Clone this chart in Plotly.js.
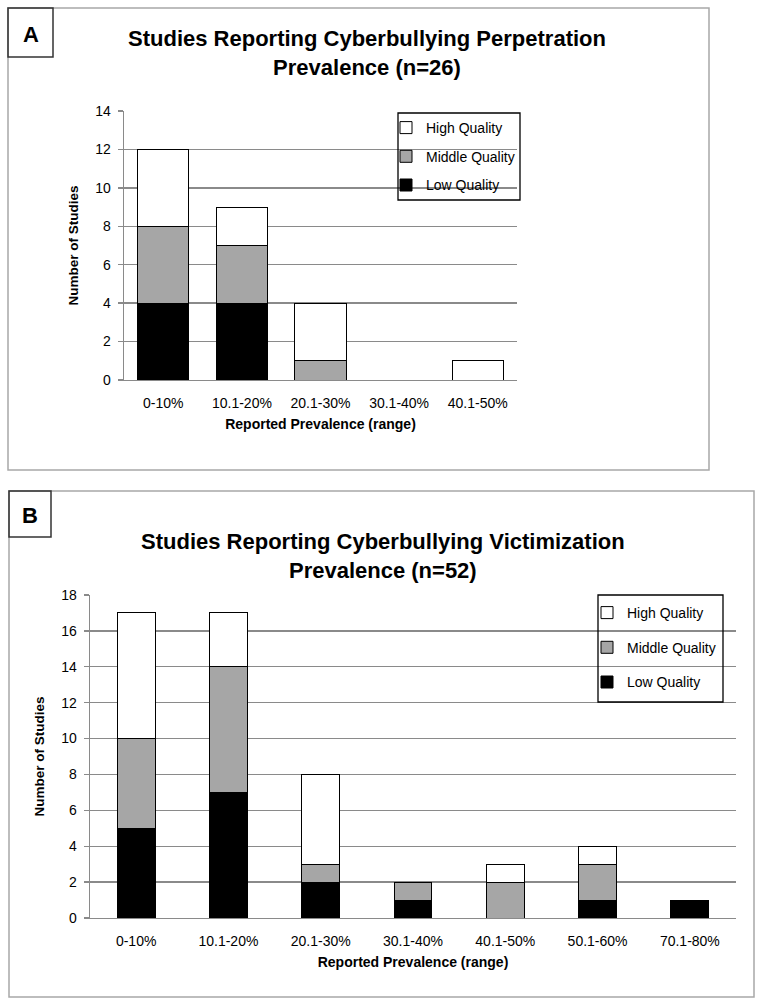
<!DOCTYPE html>
<html><head><meta charset="utf-8">
<script src="https://cdn.plot.ly/plotly-3.0.1.min.js"></script>
<style>html,body{margin:0;padding:0;background:#fff}#chart{width:764px;height:1003px}</style>
</head><body><div id="chart"></div>
<script>
// ---- data ----
const categoriesA = ['0-10%', '10.1-20%', '20.1-30%', '30.1-40%', '40.1-50%'];
const lowA = [4, 4, 0, 0, 0];
const middleA = [4, 3, 1, 0, 0];
const highA = [4, 2, 3, 0, 1];

const categoriesB = ['0-10%', '10.1-20%', '20.1-30%', '30.1-40%', '40.1-50%', '50.1-60%', '70.1-80%'];
const lowB = [5, 7, 2, 1, 0, 1, 1];
const middleB = [5, 7, 1, 1, 2, 2, 0];
const highB = [7, 3, 5, 0, 1, 1, 0];

const seriesNames = ['Low Quality', 'Middle Quality', 'High Quality'];
const yTicksA = [0, 2, 4, 6, 8, 10, 12, 14];
const yTicksB = [0, 2, 4, 6, 8, 10, 12, 14, 16, 18];
const titleA = 'Studies Reporting Cyberbullying Perpetration<br>Prevalence (n=26)';
const titleB = 'Studies Reporting Cyberbullying Victimization<br>Prevalence (n=52)';
const xTitle = 'Reported Prevalence (range)';
const yTitle = 'Number of Studies';

// ---- styling helpers ----
const W = 764, H = 1003;
const fx = x => x / W;
const fy = y => 1 - y / H;
const FONT = 'Liberation Sans, Arial, sans-serif';
const fills = ['#000000', '#a6a6a6', '#ffffff'];
const ranks = [3, 2, 1];
const GRID = '#8a8a8a';

const seriesA = [lowA, middleA, highA];
const seriesB = [lowB, middleB, highB];
const traces = [];
seriesA.forEach((vals, i) => traces.push({
  type: 'bar', name: seriesNames[i], x: categoriesA, y: vals,
  xaxis: 'x', yaxis: 'y', legend: 'legend', legendgroup: 'a' + i, legendrank: ranks[i],
  width: 0.65, marker: {color: fills[i], line: {color: '#000', width: 1}},
  hoverinfo: 'skip'
}));
seriesB.forEach((vals, i) => traces.push({
  type: 'bar', name: seriesNames[i], x: categoriesB, y: vals,
  xaxis: 'x2', yaxis: 'y2', legend: 'legend2', legendgroup: 'b' + i, legendrank: ranks[i],
  width: 0.41, marker: {color: fills[i], line: {color: '#000', width: 1}},
  hoverinfo: 'skip'
}));

const tickFont = {family: FONT, size: 14, color: '#000'};
const xAxisCommon = {
  type: 'category', showgrid: false, zeroline: false, showline: true,
  linecolor: GRID, linewidth: 1.3, ticks: '', tickfont: tickFont,
  ticklabelstandoff: 10, automargin: false, fixedrange: true
};
const yAxisCommon = {
  showgrid: true, gridcolor: GRID, gridwidth: 1.3, zeroline: false,
  showline: true, linecolor: GRID, linewidth: 1.3, ticks: 'outside',
  ticklen: 5, tickcolor: GRID, tickwidth: 1.3, tickfont: tickFont,
  ticklabelstandoff: 4, automargin: false, fixedrange: true
};

const layout = {
  width: W, height: H,
  margin: {l: 0, r: 0, t: 0, b: 0},
  paper_bgcolor: '#fff', plot_bgcolor: 'rgba(0,0,0,0)',
  barmode: 'stack',
  showlegend: true,
  font: {family: FONT, color: '#000'},
  xaxis: Object.assign({}, xAxisCommon, {
    domain: [fx(124), fx(517)], anchor: 'y',
    title: {text: xTitle, font: {family: FONT, size: 14, weight: 'bold'}, standoff: 9}
  }),
  yaxis: Object.assign({}, yAxisCommon, {
    domain: [fy(380), fy(111)], anchor: 'x', range: [0, 14],
    tickvals: yTicksA,
    title: {text: yTitle, font: {family: FONT, size: 13.5, weight: 'bold'}, standoff: 13}
  }),
  xaxis2: Object.assign({}, xAxisCommon, {
    domain: [fx(90), fx(736)], anchor: 'y2',
    title: {text: xTitle, font: {family: FONT, size: 14, weight: 'bold'}, standoff: 9}
  }),
  yaxis2: Object.assign({}, yAxisCommon, {
    domain: [fy(918), fy(595)], anchor: 'x2', range: [0, 18],
    tickvals: yTicksB,
    title: {text: yTitle, font: {family: FONT, size: 13.5, weight: 'bold'}, standoff: 13}
  }),
  legend: {
    x: fx(386), y: fy(112), xanchor: 'left', yanchor: 'top',
    bgcolor: 'rgba(0,0,0,0)', borderwidth: 0,
    font: {family: FONT, size: 14, color: '#000'},
    traceorder: 'grouped', tracegroupgap: 7.5
  },
  legend2: {
    x: fx(587), y: fy(597), xanchor: 'left', yanchor: 'top',
    bgcolor: 'rgba(0,0,0,0)', borderwidth: 0,
    font: {family: FONT, size: 14, color: '#000'},
    traceorder: 'grouped', tracegroupgap: 13.5
  },
  shapes: [
    // panel A frame and label box
    {type: 'rect', xref: 'paper', yref: 'paper', x0: fx(8), x1: fx(709), y0: fy(470), y1: fy(8), line: {color: '#a8a8a8', width: 1.5}},
    {type: 'rect', xref: 'paper', yref: 'paper', x0: fx(8), x1: fx(53), y0: fy(57), y1: fy(8), line: {color: '#333', width: 1.5}},
    {type: 'rect', xref: 'paper', yref: 'paper', x0: fx(398), x1: fx(520), y0: fy(200), y1: fy(113), line: {color: '#000', width: 1.3}},
    // panel B frame and label box
    {type: 'rect', xref: 'paper', yref: 'paper', x0: fx(9), x1: fx(754), y0: fy(997), y1: fy(491), line: {color: '#a8a8a8', width: 1.5}},
    {type: 'rect', xref: 'paper', yref: 'paper', x0: fx(9), x1: fx(51), y0: fy(537), y1: fy(491), line: {color: '#333', width: 1.5}},
    {type: 'rect', xref: 'paper', yref: 'paper', x0: fx(598), x1: fx(723), y0: fy(702), y1: fy(595), line: {color: '#000', width: 1.3}}
  ],
  annotations: [
    {text: 'A', xref: 'paper', yref: 'paper', x: fx(31), y: fy(34), xanchor: 'center', yanchor: 'middle', showarrow: false, font: {family: FONT, size: 22, weight: 'bold', color: '#000'}},
    {text: 'B', xref: 'paper', yref: 'paper', x: fx(30), y: fy(515), xanchor: 'center', yanchor: 'middle', showarrow: false, font: {family: FONT, size: 22, weight: 'bold', color: '#000'}},
    {text: titleA, xref: 'paper', yref: 'paper', x: fx(367), y: fy(53), xanchor: 'center', yanchor: 'middle', showarrow: false, align: 'center', font: {family: FONT, size: 22, weight: 'bold', color: '#000'}},
    {text: titleB, xref: 'paper', yref: 'paper', x: fx(383), y: fy(556), xanchor: 'center', yanchor: 'middle', showarrow: false, align: 'center', font: {family: FONT, size: 22, weight: 'bold', color: '#000'}}
  ]
};

Plotly.newPlot('chart', traces, layout, {displayModeBar: false, staticPlot: true});
</script>
</body></html>
